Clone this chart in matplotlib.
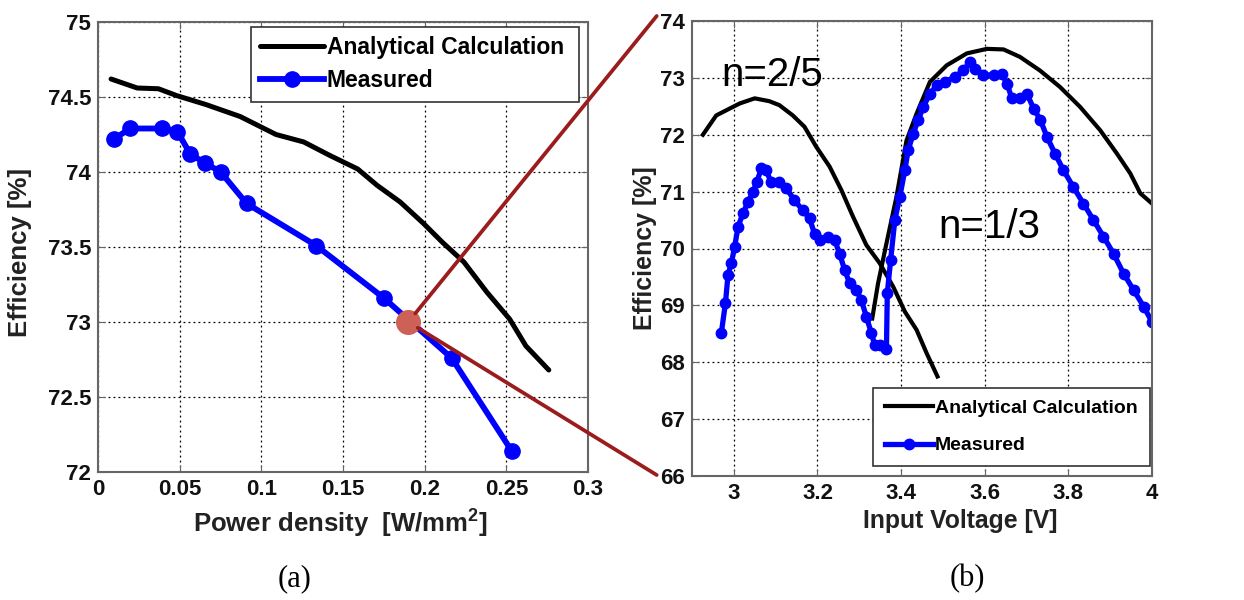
import matplotlib.pyplot as plt
from matplotlib.patches import ConnectionPatch

plt.rcParams['font.family'] = ['Liberation Sans', 'DejaVu Sans']
plt.rcParams['mathtext.fontset'] = 'custom'
plt.rcParams['mathtext.bf'] = 'Liberation Sans:bold'
plt.rcParams['mathtext.rm'] = 'Liberation Sans'

# (a) efficiency vs power density
pd_calc = [0.008, 0.024, 0.037, 0.048, 0.066, 0.087, 0.109, 0.126, 0.142, 0.159,
           0.171, 0.185, 0.199, 0.211, 0.224, 0.238, 0.252, 0.262, 0.276]
eff_calc = [74.62, 74.56, 74.555, 74.51, 74.45, 74.37, 74.25, 74.20, 74.11, 74.02,
            73.91, 73.80, 73.66, 73.53, 73.40, 73.20, 73.02, 72.84, 72.68]
pd_meas = [0.0098, 0.0196, 0.039, 0.0486, 0.0565, 0.0655, 0.0751, 0.091, 0.1335,
           0.175, 0.2165, 0.2533]
eff_meas = [74.22, 74.29, 74.29, 74.27, 74.12, 74.06, 74.00, 73.79, 73.51, 73.16,
            72.76, 72.14]
pt_zoom = (0.19, 73.0)

# (b) efficiency vs input voltage
v_calc_25 = [2.926, 2.958, 2.990, 3.014, 3.050, 3.085, 3.109, 3.141, 3.169, 3.197,
             3.229, 3.257, 3.285, 3.317, 3.349, 3.381, 3.409, 3.437, 3.461, 3.487]
eff_calc_25 = [72.0, 72.34, 72.46, 72.55, 72.64, 72.59, 72.52, 72.34, 72.14, 71.79,
               71.44, 71.03, 70.56, 70.06, 69.74, 69.33, 68.89, 68.57, 68.16, 67.75]
v_calc_13 = [3.331, 3.345, 3.365, 3.389, 3.413, 3.437, 3.469, 3.509, 3.557, 3.605,
             3.645, 3.684, 3.732, 3.780, 3.828, 3.876, 3.916, 3.948, 3.972, 4.0]
eff_calc_13 = [68.77, 69.39, 70.09, 70.91, 71.90, 72.37, 72.93, 73.22, 73.43, 73.51,
               73.50, 73.37, 73.13, 72.84, 72.49, 72.08, 71.67, 71.32, 70.97, 70.79]
v_meas = [2.970, 2.980, 2.986, 2.994, 3.002, 3.010, 3.022, 3.034, 3.046, 3.055,
          3.066, 3.077, 3.089, 3.109, 3.125, 3.145, 3.165, 3.181, 3.193, 3.205,
          3.225, 3.241, 3.253, 3.265, 3.277, 3.293, 3.305, 3.317, 3.329, 3.337,
          3.349, 3.365, 3.367, 3.375, 3.385, 3.397, 3.409, 3.417, 3.429, 3.441,
          3.453, 3.469, 3.485, 3.505, 3.529, 3.549, 3.565, 3.577, 3.597, 3.621,
          3.641, 3.653, 3.665, 3.685, 3.701, 3.717, 3.733, 3.749, 3.768, 3.788,
          3.812, 3.836, 3.860, 3.884, 3.908, 3.932, 3.956, 3.980, 4.0]
eff_meas_v = [68.51, 69.04, 69.53, 69.74, 70.03, 70.38, 70.62, 70.82, 71.00, 71.17,
              71.41, 71.38, 71.17, 71.17, 71.06, 70.85, 70.67, 70.53, 70.26, 70.15,
              70.21, 70.15, 69.91, 69.62, 69.39, 69.27, 69.09, 68.80, 68.51, 68.30,
              68.30, 68.24, 69.21, 69.80, 70.50, 70.91, 71.38, 71.73, 72.02, 72.26,
              72.49, 72.72, 72.87, 72.93, 73.02, 73.13, 73.28, 73.16, 73.05, 73.05,
              73.07, 72.90, 72.64, 72.64, 72.72, 72.46, 72.26, 71.96, 71.67, 71.38,
              71.08, 70.79, 70.50, 70.21, 69.91, 69.56, 69.27, 68.98, 68.71]

xt_a = [0, 0.05, 0.1, 0.15, 0.2, 0.25, 0.3]
yt_a = [72, 72.5, 73, 73.5, 74, 74.5, 75]
xt_b = [3, 3.2, 3.4, 3.6, 3.8, 4]
yt_b = [66, 67, 68, 69, 70, 71, 72, 73, 74]

W, H = 1244, 600
fig = plt.figure(figsize=(W / 100, H / 100), dpi=100)
ax1 = fig.add_axes([98 / W, 1 - 472 / H, 490 / W, 450 / H])
ax2 = fig.add_axes([692 / W, 1 - 476 / H, 460 / W, 455 / H])


def style_axes(ax, weight):
    ax.grid(True, color='black', linestyle=(0, (1.5, 2.5)), linewidth=0.9)
    ax.tick_params(direction='in', top=True, right=True, length=5, color='#666666',
                   labelsize=16, labelcolor='#111111', pad=5)
    for lab in ax.get_xticklabels() + ax.get_yticklabels():
        lab.set_fontweight(weight)
    for s in ax.spines.values():
        s.set_color('#666666')
        s.set_linewidth(1.5)


ax1.plot(pd_calc, eff_calc, color='black', lw=3.6, label='Analytical Calculation ',
         solid_capstyle='round')
ax1.plot(pd_meas, eff_meas, color='#0000ff', lw=4.2, marker='o', ms=11,
         label='Measured')
ax1.plot(*pt_zoom, 'o', color='#cd6158', ms=17, zorder=5)
ax1.set_xlim(0, 0.3)
ax1.set_ylim(72, 75)
ax1.set_xticks(xt_a)
ax1.set_xticklabels(['0', '0.05', '0.1', '0.15', '0.2', '0.25', '0.3'])
ax1.set_yticks(yt_a)
ax1.set_yticklabels(['72', '72.5', '73', '73.5', '74', '74.5', '75'])
style_axes(ax1, 'bold')
leg1 = ax1.legend(loc='upper left', bbox_to_anchor=(251 / W, 1 - 27 / H),
                  bbox_transform=fig.transFigure, prop={'weight': 'bold', 'size': 16.5},
                  handlelength=2.8, fancybox=False, framealpha=1, borderpad=0.4,
                  labelspacing=0.45, handletextpad=0.1, borderaxespad=0)
leg1.get_frame().set_edgecolor('#333333')
leg1.get_frame().set_linewidth(1.2)

ax2.plot(v_calc_25, eff_calc_25, color='black', lw=3, label='Analytical Calculation')
ax2.plot(v_calc_13, eff_calc_13, color='black', lw=3)
ax2.plot(v_meas, eff_meas_v, color='#0000ff', lw=3.8, marker='o', ms=7.5,
         label='Measured')
ax2.set_xlim(2.9, 4)
ax2.set_ylim(66, 74)
ax2.set_xticks(xt_b)
ax2.set_xticklabels(['3', '3.2', '3.4', '3.6', '3.8', '4'])
ax2.set_yticks(yt_b)
style_axes(ax2, 'bold')
ax2.text(2.97, 73.05, 'n=2/5', fontsize=29, va='center', ha='left')
ax2.text(3.489, 70.38, 'n=1/3', fontsize=29, va='center', ha='left')
leg2 = ax2.legend(loc='upper left', bbox_to_anchor=(873 / W, 1 - 388 / H),
                  bbox_transform=fig.transFigure, prop={'weight': 'bold', 'size': 14},
                  handlelength=2.5, fancybox=False, framealpha=1, borderpad=0.6,
                  labelspacing=1.0, handletextpad=0.1, borderaxespad=0)
leg2.get_frame().set_edgecolor('#333333')
leg2.get_frame().set_linewidth(1.2)

# axis labels placed like the original figure
fig.text(20 / W, 1 - 252 / H, 'Efficiency [%]', rotation=90, ha='center', va='center',
         fontsize=18.5, fontweight='bold', color='#222222')
fig.text(645 / W, 1 - 248 / H, 'Efficiency [%]', rotation=90, ha='center', va='center',
         fontsize=18, fontweight='bold', color='#222222')
fig.text(340 / W, 1 - 523 / H, r'Power density  [W/mm$^{\mathbf{2}}$]', ha='center',
         va='center', fontsize=18.5, fontweight='bold', color='#222222')
fig.text(960 / W, 1 - 521 / H, 'Input Voltage [V]', ha='center', va='center',
         fontsize=17.8, fontweight='bold', color='#222222')
fig.text(295 / W, 1 - 579 / H, '(a)', ha='center', va='center', fontsize=22,
         family='Liberation Serif')
fig.text(967 / W, 1 - 579 / H, '(b)', ha='center', va='center', fontsize=22,
         family='Liberation Serif')

# zoom lines from the marked point to panel (b)
for yb in (16, 475):
    con = ConnectionPatch(xyA=pt_zoom, coordsA='data', axesA=ax1,
                          xyB=(656.7 / W, 1 - yb / H), coordsB='figure fraction',
                          color='#9b1c1c', lw=2.7, shrinkA=8)
    fig.add_artist(con)

fig.savefig('out.png', dpi=100)
